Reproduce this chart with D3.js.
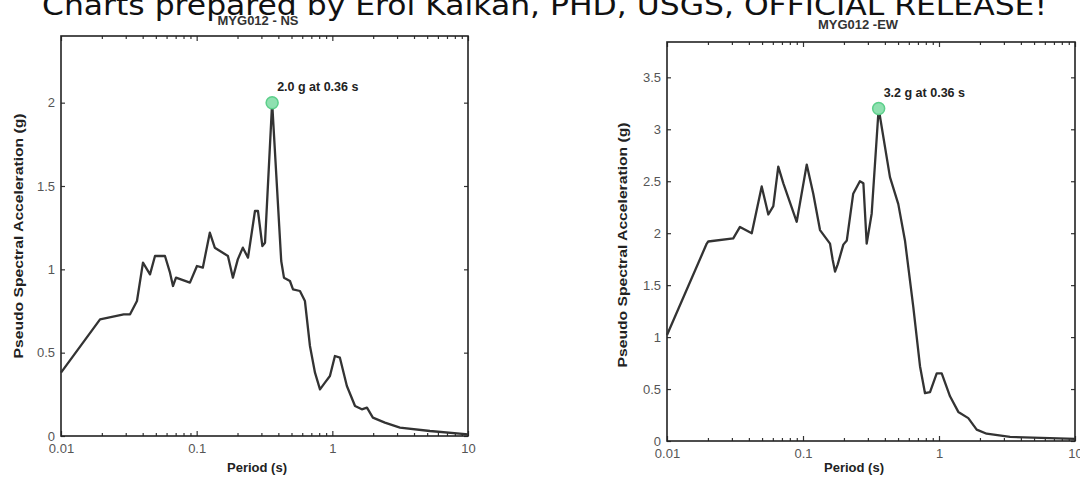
<!DOCTYPE html>
<html>
<head>
<meta charset="utf-8">
<script src="https://cdn.jsdelivr.net/npm/d3@7"></script>
<style>
body { margin: 0; background: #fff; }
svg { display: block; }
</style>
</head>
<body>
<div id="Canvas1"></div>
<script>
// MYG012 NS component (period s, PSA g)
const nsPeriod = [0.01, 0.0194, 0.029, 0.0323, 0.0363, 0.0402, 0.0453, 0.0493, 0.0584, 0.0636, 0.0669, 0.0704,
    0.0892, 0.1005, 0.111, 0.125, 0.136, 0.170, 0.185, 0.201, 0.219, 0.239, 0.269, 0.283, 0.305, 0.319, 0.36,
    0.42, 0.44, 0.487, 0.513, 0.577, 0.628, 0.684, 0.745, 0.811, 0.882, 0.96, 1.045, 1.137, 1.28, 1.47, 1.65,
    1.80, 1.99, 2.44, 3.15, 5.24, 10]
const nsAccel = [0.38, 0.70, 0.73, 0.73, 0.81, 1.04, 0.97, 1.08, 1.08, 0.98, 0.90, 0.95,
    0.92, 1.02, 1.01, 1.22, 1.13, 1.08, 0.95, 1.06, 1.13, 1.07, 1.35, 1.35, 1.14, 1.16, 2.0,
    1.05, 0.95, 0.93, 0.88, 0.87, 0.81, 0.54, 0.38, 0.28, 0.32, 0.36, 0.48, 0.47, 0.30, 0.18, 0.16,
    0.17, 0.11, 0.08, 0.05, 0.03, 0.01]

// MYG012 EW component
const ewPeriod = [0.01, 0.0196, 0.0201, 0.0307, 0.0344, 0.042, 0.0497, 0.0556, 0.0605, 0.0658, 0.0717, 0.0899,
    0.1065, 0.119, 0.1334, 0.158, 0.165, 0.172, 0.18, 0.198, 0.210, 0.234, 0.262, 0.278, 0.294, 0.32, 0.36,
    0.436, 0.502, 0.562, 0.647, 0.725, 0.789, 0.859, 0.962, 1.047, 1.205, 1.387, 1.642, 1.893, 2.24, 3.33, 10]
const ewAccel = [1.02, 1.90, 1.92, 1.95, 2.06, 2.00, 2.45, 2.18, 2.26, 2.64, 2.48, 2.11,
    2.66, 2.38, 2.03, 1.90, 1.75, 1.63, 1.70, 1.89, 1.93, 2.38, 2.50, 2.48, 1.90, 2.19, 3.20,
    2.54, 2.28, 1.93, 1.29, 0.72, 0.46, 0.47, 0.65, 0.65, 0.43, 0.28, 0.22, 0.11, 0.07, 0.04, 0.02]

const nsPeak = [0.36, 2.0]
const ewPeak = [0.36, 3.2]

const xTickValues = [0.01, 0.1, 1, 10]
const xTickLabels = ["0.01", "0.1", "1", "10"]
const nsYTicks = [0, 0.5, 1, 1.5, 2]
const ewYTicks = [0, 0.5, 1, 1.5, 2, 2.5, 3, 3.5]

const bannerText = "Charts prepared by Erol Kalkan, PHD, USGS, OFFICIAL RELEASE!"
const yLabel = "Pseudo Spectral Acceleration (g)"
const xLabel = "Period (s)"

let W = 1080, H = 477
let svg = d3.select("#Canvas1").append("svg")
    .attr("width", W).attr("height", H)
    .style("background", "white")

// minor log ticks 2..9 per decade
let minorTicks = []
for (let dec of [0.01, 0.1, 1]) {
    for (let k = 2; k <= 9; k++) minorTicks.push(dec * k)
}

function drawSpectrum(opt) {
    let x = d3.scaleLog().domain([0.01, 10]).range([opt.left, opt.right])
    let y = d3.scaleLinear().domain([0, opt.yMax]).range([opt.bottom, opt.top])
    let g = svg.append("g")

    // x ticks, bottom + top, pointing inward
    g.append("g").attr("transform", `translate(0,${opt.bottom})`)
        .call(d3.axisBottom(x).tickValues(minorTicks).tickSize(-3).tickFormat(""))
    g.append("g").attr("transform", `translate(0,${opt.top})`)
        .call(d3.axisTop(x).tickValues(minorTicks).tickSize(-3).tickFormat(""))
    g.append("g").attr("class", "lbl").attr("transform", `translate(0,${opt.bottom})`)
        .call(d3.axisBottom(x).tickValues(xTickValues).tickSizeInner(-5).tickSizeOuter(0)
            .tickPadding(8).tickFormat((d, i) => xTickLabels[i]))
    g.append("g").attr("transform", `translate(0,${opt.top})`)
        .call(d3.axisTop(x).tickValues(xTickValues).tickSizeInner(-5).tickSizeOuter(0).tickFormat(""))

    // y ticks, left + right
    g.append("g").attr("class", "lbl").attr("transform", `translate(${opt.left},0)`)
        .call(d3.axisLeft(y).tickValues(opt.yTicks).tickSizeInner(-4).tickSizeOuter(0)
            .tickPadding(6).tickFormat(d3.format("")))
    g.append("g").attr("transform", `translate(${opt.right},0)`)
        .call(d3.axisRight(y).tickValues(opt.yTicks).tickSizeInner(-4).tickSizeOuter(0).tickFormat(""))

    g.selectAll(".domain").remove()
    g.selectAll(".tick line").attr("stroke", "#333").attr("stroke-width", 1.2)
    g.selectAll(".lbl text")
        .attr("fill", "#555")
        .style("font-family", "Liberation Sans, Arial, sans-serif")
        .style("font-size", "13px")

    // frame
    g.append("rect")
        .attr("x", opt.left).attr("y", opt.top)
        .attr("width", opt.right - opt.left).attr("height", opt.bottom - opt.top)
        .attr("fill", "none").attr("stroke", "#222").attr("stroke-width", 1.6)

    // spectrum curve
    let pts = opt.period.map((p, i) => [p, opt.accel[i]])
    g.append("path")
        .datum(pts)
        .attr("d", d3.line().x(d => x(d[0])).y(d => y(d[1])))
        .attr("fill", "none").attr("stroke", "#333").attr("stroke-width", 2.3)
        .attr("stroke-linejoin", "round")

    // peak marker
    g.append("circle")
        .attr("cx", x(opt.peak[0])).attr("cy", y(opt.peak[1])).attr("r", 6)
        .attr("fill", "#8fe0b0").attr("stroke", "#5ccf8a").attr("stroke-width", 1.5)
    g.append("text")
        .attr("x", x(opt.peak[0]) + 5).attr("y", y(opt.peak[1]) - 12)
        .attr("fill", "#222")
        .style("font-family", "Liberation Sans, Arial, sans-serif")
        .style("font-size", "12.5px").style("font-weight", "bold")
        .text(`${opt.peak[1].toFixed(1)} g at ${opt.peak[0]} s`)

    // title
    g.append("text")
        .attr("x", opt.titleX).attr("y", opt.titleY)
        .attr("text-anchor", "middle").attr("fill", "#333")
        .style("font-family", "Liberation Sans, Arial, sans-serif")
        .style("font-size", "13px").style("font-weight", "bold")
        .text(opt.title)

    // axis labels
    g.append("text")
        .attr("x", opt.xLabelX).attr("y", 472)
        .attr("text-anchor", "middle").attr("fill", "#222")
        .style("font-family", "Liberation Sans, Arial, sans-serif")
        .style("font-size", "13px").style("font-weight", "bold")
        .text(xLabel)
    g.append("text")
        .attr("transform", `translate(${opt.yLabelX},${opt.yLabelY}) rotate(-90)`)
        .attr("text-anchor", "middle").attr("fill", "#222")
        .attr("textLength", 245).attr("lengthAdjust", "spacingAndGlyphs")
        .style("font-family", "Liberation Sans, Arial, sans-serif")
        .style("font-size", "13px").style("font-weight", "bold")
        .text(yLabel)
}

drawSpectrum({
    left: 61, right: 468, top: 36, bottom: 436, yMax: 2.4, yTicks: nsYTicks,
    period: nsPeriod, accel: nsAccel, peak: nsPeak,
    title: "MYG012 - NS", titleX: 258, titleY: 25,
    xLabelX: 257, yLabelX: 23, yLabelY: 236
})

drawSpectrum({
    left: 667, right: 1075, top: 42, bottom: 441, yMax: 3.84, yTicks: ewYTicks,
    period: ewPeriod, accel: ewAccel, peak: ewPeak,
    title: "MYG012 -EW", titleX: 858, titleY: 29,
    xLabelX: 854, yLabelX: 627, yLabelY: 245
})

// banner text, cut off by the top edge
svg.append("text")
    .attr("x", 42).attr("y", 15)
    .attr("textLength", 1005).attr("lengthAdjust", "spacingAndGlyphs")
    .attr("fill", "#111")
    .style("font-family", "DejaVu Sans, sans-serif")
    .style("font-size", "29px")
    .text(bannerText)
</script>
</body>
</html>
